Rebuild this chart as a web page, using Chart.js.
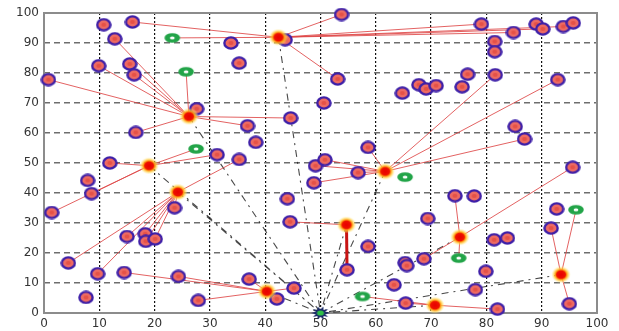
<!DOCTYPE html>
<html>
<head>
<meta charset="utf-8">
<script src="https://cdn.jsdelivr.net/npm/chart.js@4/dist/chart.umd.min.js"></script>
<style>
  html, body { margin: 0; padding: 0; background: #ffffff; }
  #wrap { width: 619px; height: 331px; position: relative; }
</style>
</head>
<body>
<div id="wrap"><canvas id="c" width="619" height="331"></canvas></div>
<script>
// Axis ticks
const tickValues = [0, 10, 20, 30, 40, 50, 60, 70, 80, 90, 100];

// Cluster heads
const headX = [26.2, 42.4, 19.0, 24.2, 61.7, 54.7, 40.3, 75.2, 93.5, 70.7];
const headY = [65.5, 91.9, 49.1, 40.3, 47.2, 29.4, 7.2, 25.3, 12.8, 2.6];

// Sensor nodes and the cluster head each one reports to (-1 = no link)
const nodeX = [10.8, 16.0, 12.8, 9.9, 15.5, 16.3, 0.8, 27.6, 16.6, 43.6,
               33.8, 35.3, 53.8, 53.1, 50.6, 44.6, 36.8, 38.3, 31.3, 35.3,
               11.9, 7.9, 8.6, 1.4, 23.6, 15.0, 18.3, 18.4, 20.1, 4.4,
               9.7, 14.5, 24.3, 7.6, 27.9, 37.1, 42.1, 45.2, 44.0, 44.5,
               54.8, 58.6, 48.8, 49.1, 50.8, 56.8, 58.6, 64.8, 67.8, 69.1,
               70.9, 75.6, 76.6, 79.1, 84.9, 89.0, 90.2, 93.9, 95.7, 81.5,
               81.5, 81.6, 92.9, 85.2, 86.9, 95.6, 74.3, 77.8, 92.7, 69.4,
               91.7, 81.4, 83.8, 68.7, 65.3, 65.6, 79.9, 63.3, 78.0, 65.4,
               82.0, 95.0];
const nodeY = [96.1, 97.0, 91.4, 82.4, 83.0, 79.4, 77.8, 68.1, 60.2, 91.1,
               90.0, 83.3, 99.5, 78.0, 70.0, 65.0, 62.4, 56.9, 52.8, 51.2,
               50.0, 44.2, 39.8, 33.5, 35.1, 25.5, 26.4, 23.9, 24.7, 16.7,
               13.1, 13.5, 12.2, 5.2, 4.2, 11.3, 4.7, 8.3, 38.1, 30.4,
               14.4, 22.2, 43.4, 49.1, 51.1, 46.8, 55.2, 73.3, 76.1, 74.7,
               75.8, 75.4, 79.6, 96.3, 93.5, 96.3, 94.7, 95.5, 96.7, 90.5,
               87.1, 79.4, 77.8, 62.2, 58.0, 48.6, 39.1, 39.0, 34.7, 31.5,
               28.3, 24.4, 25.0, 18.1, 16.8, 15.8, 13.9, 9.4, 7.8, 3.3,
               1.3, 3.1];
const nodeHead = [-1, 1, 0, 0, 0, 0, 0, 0, 0, 1,
                  -1, -1, 1, 1, -1, 0, 0, -1, 2, 3,
                  2, -1, 2, 2, 3, 3, 3, 3, 3, 3,
                  3, 6, 6, -1, 6, 6, 6, 6, -1, 5,
                  5, -1, 4, 4, 4, 4, 4, -1, -1, -1,
                  -1, -1, -1, 1, 1, -1, 1, 1, -1, -1,
                  -1, 4, 4, -1, 4, 7, 7, -1, -1, -1,
                  8, -1, -1, 7, -1, -1, -1, -1, -1, 9,
                  9, 8];

// Relay nodes (green) and their cluster head
const relayX = [23.2, 25.7, 27.5, 65.3, 75.0, 96.2, 57.6];
const relayY = [91.7, 80.4, 54.7, 45.3, 18.3, 34.4, 5.5];
const relayHead = [1, 0, 2, -1, 7, 8, 9];

// Base station
const sinkX = [50];
const sinkY = [0];

// ---------- marker sprites ----------
function sprite(w, h, paint) {
  const cv = document.createElement('canvas');
  cv.width = w; cv.height = h;
  paint(cv.getContext('2d'), w, h);
  return cv;
}
const nodeSprite = sprite(16, 14, (g, w, h) => {
  g.beginPath();
  g.ellipse(w / 2, h / 2, 6.6, 5.6, 0, 0, Math.PI * 2);
  g.fillStyle = '#ee6b62';
  g.fill();
  g.lineWidth = 2.4;
  g.strokeStyle = '#3d1fa8';
  g.stroke();
  g.beginPath();
  g.ellipse(w / 2, h / 2, 2.5, 2, 0, 0, Math.PI * 2);
  g.fillStyle = 'rgba(225,70,60,0.7)';
  g.fill();
});
const headSprite = sprite(22, 18, (g, w, h) => {
  g.save();
  g.translate(w / 2, h / 2);
  g.scale(1.15, 1);
  const rg = g.createRadialGradient(0, 0, 0, 0, 0, 8.5);
  rg.addColorStop(0, '#e80000');
  rg.addColorStop(0.45, '#ee1200');
  rg.addColorStop(0.58, '#ff9a10');
  rg.addColorStop(0.78, 'rgba(255,210,70,0.6)');
  rg.addColorStop(1, 'rgba(255,235,140,0)');
  g.beginPath();
  g.arc(0, 0, 8.5, 0, Math.PI * 2);
  g.fillStyle = rg;
  g.fill();
  g.restore();
});
const relaySprite = sprite(18, 12, (g, w, h) => {
  g.beginPath();
  g.ellipse(w / 2, h / 2, 7.8, 4.8, 0, 0, Math.PI * 2);
  g.fillStyle = '#22a448';
  g.fill();
  g.beginPath();
  g.ellipse(w / 2, h / 2, 2.4, 1.6, 0, 0, Math.PI * 2);
  g.fillStyle = '#ffffff';
  g.fill();
});
const sinkSprite = sprite(20, 16, (g, w, h) => {
  g.save();
  g.translate(w / 2, h / 2);
  g.beginPath();
  const spikes = 10;
  for (let i = 0; i < spikes * 2; i++) {
    const r = i % 2 === 0 ? 8 : 4.5;
    const a = (Math.PI * i) / spikes;
    const px = Math.cos(a) * r * 1.15, py = Math.sin(a) * r * 0.85;
    if (i === 0) g.moveTo(px, py); else g.lineTo(px, py);
  }
  g.closePath();
  g.fillStyle = '#1b2b68';
  g.fill();
  g.beginPath();
  g.ellipse(0, 0, 3.5, 2.6, 0, 0, Math.PI * 2);
  g.fillStyle = '#2fc048';
  g.fill();
  g.restore();
});

// ---------- datasets built from the arrays ----------
const gap = { x: null, y: null };
const thinLinks = [];
const thickLinks = [];
nodeX.forEach((x, i) => {
  const h = nodeHead[i];
  if (h < 0) return;
  const seg = [{ x, y: nodeY[i] }, { x: headX[h], y: headY[h] }, gap];
  // the one vertical link below the central head is drawn heavier
  if (h === 5 && Math.abs(x - headX[h]) < 1) thickLinks.push(...seg);
  else thinLinks.push(...seg);
});
relayX.forEach((x, i) => {
  const h = relayHead[i];
  if (h < 0) return;
  thinLinks.push({ x, y: relayY[i] }, { x: headX[h], y: headY[h] }, gap);
});
const sinkLinks = [];
headX.forEach((x, i) => {
  sinkLinks.push({ x, y: headY[i] }, { x: sinkX[0], y: sinkY[0] }, gap);
});

const pts = (xs, ys) => xs.map((x, i) => ({ x, y: ys[i] }));

// Frame around the plotting area
const framePlugin = {
  id: 'frame',
  beforeDatasetsDraw(chart) {
    const a = chart.chartArea, ctx = chart.ctx;
    ctx.save();
    ctx.strokeStyle = '#8c8c8c';
    ctx.lineWidth = 2;
    ctx.strokeRect(a.left, a.top, a.right - a.left, a.bottom - a.top);
    ctx.restore();
  }
};

const tickFont = { family: 'DejaVu Sans', size: 12 };

new Chart(document.getElementById('c'), {
  type: 'scatter',
  data: {
    datasets: [
      { label: 'sink', data: pts(sinkX, sinkY), pointStyle: sinkSprite, pointRadius: 8, order: 0, clip: false },
      { label: 'heads', data: pts(headX, headY), pointStyle: headSprite, pointRadius: 8, order: 1, clip: false },
      { label: 'relays', data: pts(relayX, relayY), pointStyle: relaySprite, pointRadius: 7, order: 2, clip: false },
      { label: 'nodes', data: pts(nodeX, nodeY), pointStyle: nodeSprite, pointRadius: 7, order: 3, clip: false },
      { label: 'head-sink', data: sinkLinks, showLine: true, spanGaps: false, pointRadius: 0,
        borderColor: 'rgba(40,40,40,0.85)', borderWidth: 1.1, borderDash: [7, 5, 2, 5], order: 5 },
      { label: 'links', data: thinLinks, showLine: true, spanGaps: false, pointRadius: 0,
        borderColor: 'rgba(222,70,70,0.85)', borderWidth: 1, order: 4 },
      { label: 'links-heavy', data: thickLinks, showLine: true, spanGaps: false, pointRadius: 0,
        borderColor: '#c81414', borderWidth: 3, order: 4 }
    ]
  },
  options: {
    responsive: false,
    animation: false,
    events: [],
    layout: { padding: { top: 13, right: 22, left: 0, bottom: 0 } },
    plugins: { legend: { display: false }, tooltip: { enabled: false } },
    scales: {
      x: {
        type: 'linear', min: 0, max: 100,
        afterBuildTicks: s => { s.ticks = tickValues.map(v => ({ value: v })); },
        afterFit: s => { s.height = 18; },
        grid: { color: '#111111', lineWidth: 1.2, drawTicks: false },
        border: { display: false, dash: [2, 2] },
        ticks: { color: '#333333', font: tickFont, padding: 4, maxRotation: 0, autoSkip: false }
      },
      y: {
        type: 'linear', min: 0, max: 100,
        afterBuildTicks: s => { s.ticks = tickValues.map(v => ({ value: v })); },
        afterFit: s => { s.width = 44; },
        grid: { color: '#6e6e6e', lineWidth: 1.6, drawTicks: false },
        border: { display: false, dash: [6, 4] },
        ticks: { color: '#333333', font: tickFont, padding: 5, autoSkip: false }
      }
    }
  },
  plugins: [framePlugin]
});
</script>
</body>
</html>
